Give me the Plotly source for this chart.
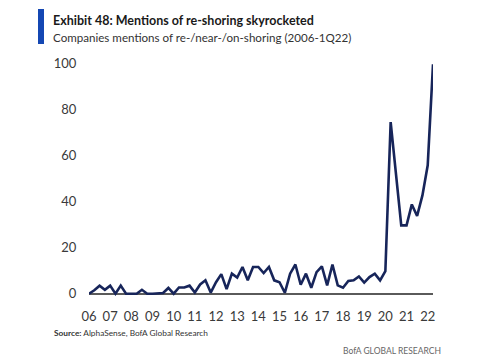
import plotly.graph_objects as go

# Quarterly values, 2006Q1 .. 2022Q2 (index 0..65)
values = [0, 1.5, 3.5, 1.7, 3.5, 0, 3.5, 0,          # 06-07
          0, 0, 1.7, 0, 0, 0, 0.3, 2.5,              # 08-09
          0, 2.7, 2.7, 3.5, 0.5, 4, 5.8, 0.5,        # 10-11
          5, 8.5, 2, 8.7, 7, 11.6, 5.8, 11.6,        # 12-13
          11.6, 9, 11.6, 5.8, 5, 0.4, 8.7, 12.7,     # 14-15
          3.9, 8.7, 2.6, 9.4, 11.9, 3.6, 12.7, 3.6,  # 16-17
          2.6, 5.5, 5.8, 7.5, 4.8, 7.2, 8.7, 5.8,    # 18-19
          9.8, 74.6, 52, 29.7, 29.7, 38.8, 33.8, 42.7,  # 20-21
          55.8, 99.7]                                 # 22
x_index = list(range(len(values)))
tick_labels = ["06", "07", "08", "09", "10", "11", "12", "13", "14",
               "15", "16", "17", "18", "19", "20", "21", "22"]
tick_positions = [4 * k for k in range(len(tick_labels))]
y_ticks = [0, 20, 40, 60, 80, 100]

FONT = "Lato"
OFF = 8  # page body margin offset
W, H = 485 - OFF, 360 - OFF
L, R, T, B = 89 - OFF, 52, 59 - OFF, 64
pw = W - L - R
ph = H - T - B


def px_x(x):
    return (x - OFF - L) / pw


def px_y(y):
    return (H - B - (y - OFF)) / ph


fig = go.Figure()
fig.add_trace(go.Scatter(x=x_index, y=values, mode="lines",
                         line=dict(color="#17255a", width=2.6),
                         hoverinfo="skip", showlegend=False))

fig.update_layout(
    width=W, height=H,
    margin=dict(l=L, r=R, t=T, b=B),
    paper_bgcolor="white", plot_bgcolor="white",
    font=dict(family=FONT, color="#3a3a3a"),
    xaxis=dict(range=[0, 65], tickvals=tick_positions, ticktext=tick_labels,
               showgrid=False, zeroline=False, showline=False,
               ticks="outside", ticklen=8, tickcolor="rgba(0,0,0,0)",
               tickfont=dict(size=13, color="#3a3a3a", family=FONT)),
    yaxis=dict(range=[-1, 102], tickvals=y_ticks,
               showgrid=False, zeroline=True, zerolinecolor="#5a5a5a",
               zerolinewidth=1.6, showline=False,
               ticks="outside", ticklen=9, tickcolor="rgba(0,0,0,0)",
               tickfont=dict(size=13, color="#3a3a3a", family=FONT)),
)

fig.add_shape(type="rect", xref="paper", yref="paper",
              x0=px_x(38), x1=px_x(44), y0=px_y(44), y1=px_y(9),
              fillcolor="#1447b3", line=dict(width=0))

fig.add_annotation(text="<b>Exhibit 48: Mentions of re-shoring skyrocketed</b>",
                   xref="paper", yref="paper", x=px_x(51), y=px_y(20),
                   xanchor="left", yanchor="middle", showarrow=False,
                   font=dict(size=12.5, color="#1a1a1a", family=FONT))
fig.add_annotation(text="Companies mentions of re-/near-/on-shoring (2006-1Q22)",
                   xref="paper", yref="paper", x=px_x(51), y=px_y(37),
                   xanchor="left", yanchor="middle", showarrow=False,
                   font=dict(size=11.6, color="#333333", family=FONT))
fig.add_annotation(text="<b>Source:</b> AlphaSense, BofA Global Research",
                   xref="paper", yref="paper", x=px_x(52), y=px_y(333),
                   xanchor="left", yanchor="middle", showarrow=False,
                   font=dict(size=8.3, color="#333333", family=FONT))
fig.add_annotation(text="BofA GLOBAL RESEARCH",
                   xref="paper", yref="paper", x=px_x(443), y=px_y(351),
                   xanchor="right", yanchor="middle", showarrow=False,
                   font=dict(size=8.5, color="#666666", family=FONT))

fig.write_html("out.html")
